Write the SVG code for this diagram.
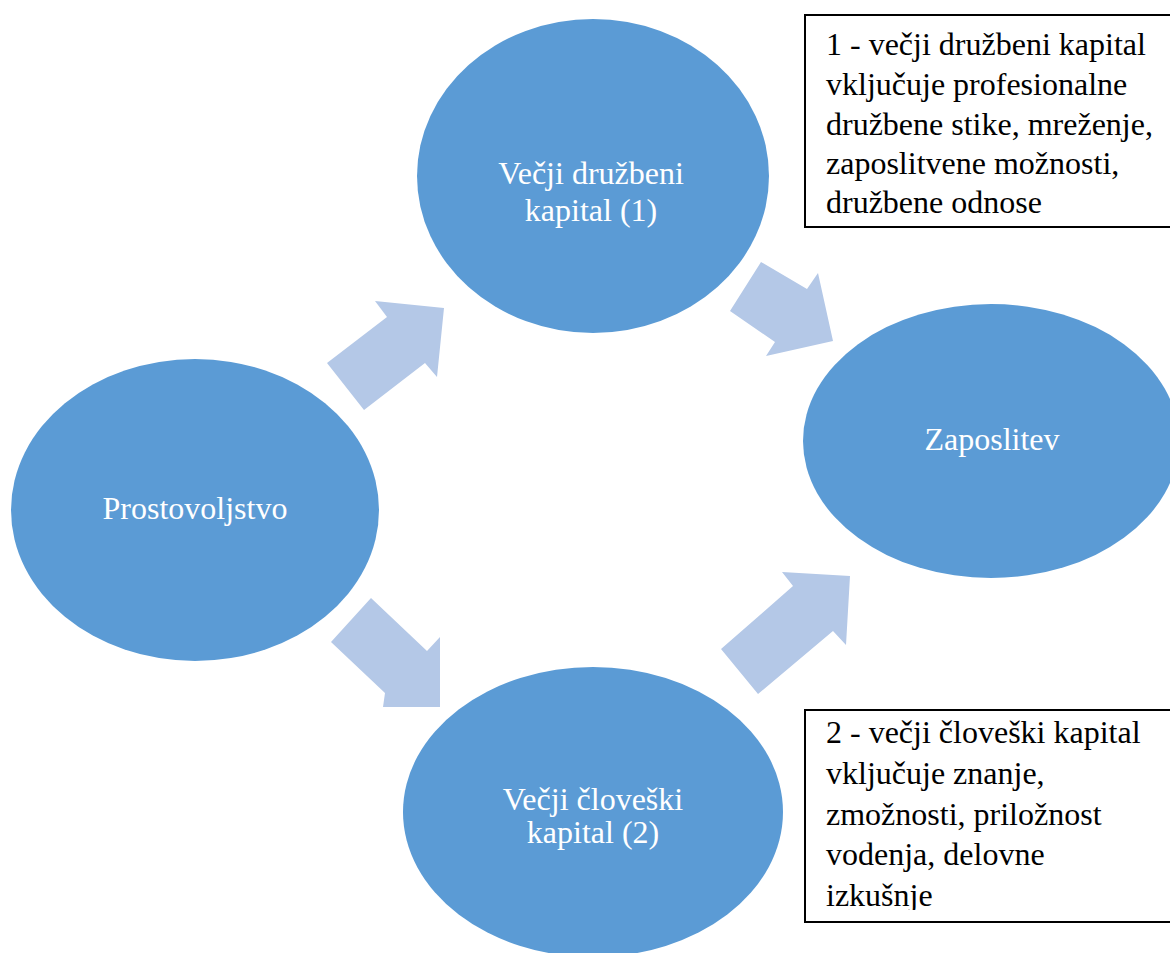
<svg xmlns="http://www.w3.org/2000/svg" width="1170" height="953" viewBox="0 0 1170 953">
<style>
.node{fill:#5B9BD5;}
.arrow{fill:#B4C8E7;}
.lbl{font-family:"Liberation Serif","Times New Roman",serif;font-size:32px;fill:#FFFFFF;text-anchor:middle;}
.note{font-family:"Liberation Serif","Times New Roman",serif;font-size:32px;fill:#000000;}
.box{fill:#FFFFFF;stroke:#000000;stroke-width:2;}
</style>
<defs>
<clipPath id="clip2"><rect x="806" y="711" width="364" height="199"/></clipPath>
</defs>
<rect width="1170" height="953" fill="#FFFFFF"/>
<g id="connectors">
<polygon class="arrow" points="444,308 375,301 387,317 327,363 364,410 425,363 437,377"/>
<polygon class="arrow" points="761,262 807,289 818,273 833,341 766,356 775,342 730,311"/>
<polygon class="arrow" points="371,598 427,651 440,637 440,707 383,707 385,693 331,642"/>
<polygon class="arrow" points="782,572 850,576 846,645 833,631 758,694 721,649 793,586"/>
</g>
<g id="prostovoljstvo">
<ellipse class="node" cx="195" cy="510" rx="184" ry="151"/>
<text class="lbl" x="195" y="519">Prostovoljstvo</text>
</g>
<g id="druzbeni">
<ellipse class="node" cx="593" cy="176" rx="176" ry="157"/>
<text class="lbl" x="591" y="184">Večji družbeni</text>
<text class="lbl" x="591" y="221">kapital (1)</text>
</g>
<g id="zaposlitev">
<ellipse class="node" cx="991" cy="441" rx="188" ry="137"/>
<text class="lbl" x="992" y="450">Zaposlitev</text>
</g>
<g id="cloveski">
<ellipse class="node" cx="593" cy="812" rx="190" ry="145"/>
<text class="lbl" x="593" y="810">Večji človeški</text>
<text class="lbl" x="593" y="843">kapital (2)</text>
</g>
<g id="note1">
<rect class="box" x="805" y="15" width="370" height="212"/>
<text class="note" x="826" y="55">1 - večji družbeni kapital</text>
<text class="note" x="826" y="95">vključuje profesionalne</text>
<text class="note" x="826" y="135">družbene stike, mreženje,</text>
<text class="note" x="826" y="174">zaposlitvene možnosti,</text>
<text class="note" x="826" y="213">družbene odnose</text>
</g>
<g id="note2">
<rect class="box" x="805" y="710" width="370" height="212"/>
<g clip-path="url(#clip2)">
<text class="note" x="826" y="743">2 - večji človeški kapital</text>
<text class="note" x="826" y="784">vključuje znanje,</text>
<text class="note" x="826" y="825">zmožnosti, priložnost</text>
<text class="note" x="826" y="865">vodenja, delovne</text>
<text class="note" x="826" y="906">izkušnje</text>
</g>
</g>
</svg>
